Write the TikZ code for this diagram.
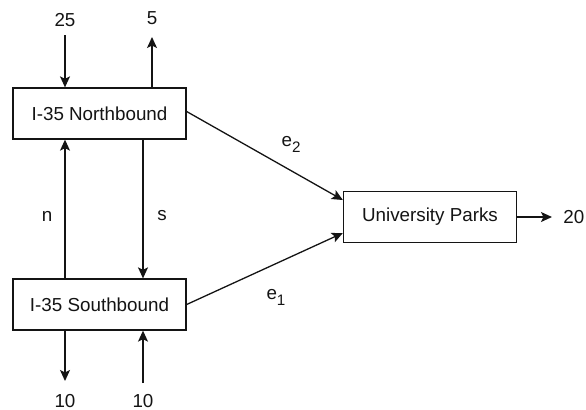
\documentclass[tikz,border=0pt]{standalone}
\usepackage{fontspec}
\setmainfont{Liberation Sans}
\usepackage{tikz}
\usetikzlibrary{arrows.meta, calc}
\definecolor{mydark}{RGB}{20,20,20}
\newcommand{\lowsub}[1]{\raisebox{-0.32em}{\fontsize{7.6}{9}\selectfont #1}}
\tikzset{
  road/.style={rectangle, draw=mydark, fill=white, line width=0.65pt,
    minimum width=86.5pt, minimum height=25.5pt, inner sep=0pt},
  flow/.style={-{Stealth[length=5.5pt, width=5pt, inset=1.2pt]}, line width=0.65pt, color=mydark},
  lbl/.style={inner sep=1pt}
}

\begin{document}
\begin{tikzpicture}[x=0.5pt, y=-0.5pt, every node/.style={font=\fontsize{9.4}{11}\selectfont, text=mydark}]
    \useasboundingbox (0,0) rectangle (586,409);

    % Boxes
    \node[road] (nb) at (99.5,113.5) {I-35 Northbound};
    \node[road] (sb) at (99.5,304.5) {I-35 Southbound};
    \node[road] (up) at (430,217) {University Parks};

    % Free ends
    \coordinate (in25) at (65,35);
    \coordinate (out5) at (152,37);
    \coordinate (out10) at (65,381);
    \coordinate (in10) at (143,383);
    \coordinate (out20) at (552,217);

    % Labels
    \node[lbl] (l25) at (65,20) {25};
    \node[lbl] (l5) at (152,18) {5};
    \node[lbl] (lo10) at (65,401) {10};
    \node[lbl] (li10) at (143,401) {10};
    \node[lbl, anchor=west] (l20) at (561,217) {20};
    \node[lbl] (ln) at (47,216) {n};
    \node[lbl] (ls) at (162,216) {s};
    \node[lbl] (le2) at (291,144) {e\lowsub{2}};
    \node[lbl] (le1) at (276,297) {e\lowsub{1}};

    % Flows
    \draw[flow] (in25) -- (in25 |- nb.north);
    \draw[flow] (out5 |- nb.north) -- (out5);
    \draw[flow] (sb.north -| in25) -- (nb.south -| in25);
    \draw[flow] (nb.south -| in10) -- (sb.north -| in10);
    \draw[flow] (out10 |- sb.south) -- (out10);
    \draw[flow] (in10) -- (in10 |- sb.south);
    \draw[flow] ($(nb.east)+(0,-2)$) -- ($(up.west)+(0,-17)$);
    \draw[flow] (sb.east) -- ($(up.west)+(0,16)$);
    \draw[flow] (up.east) -- (out20);
  \end{tikzpicture}
\end{document}
